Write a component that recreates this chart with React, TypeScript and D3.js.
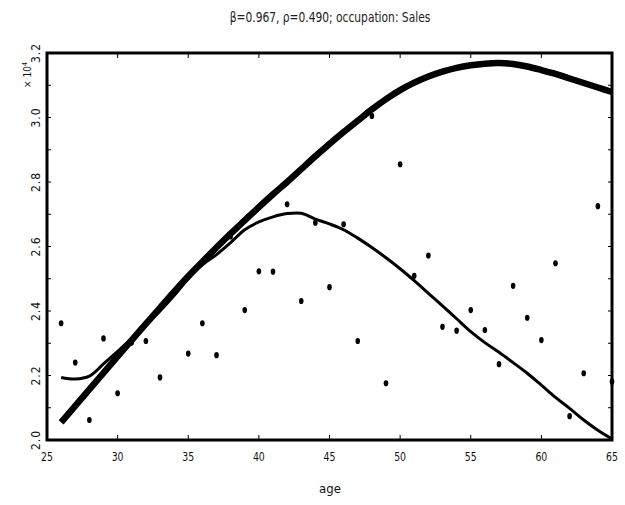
import React from "react";
import * as d3 from "d3";

// Observed income by age (units of 10^4)
const ages = [26, 27, 28, 29, 30, 31, 32, 33, 35, 36, 37, 38, 39, 40, 41, 42, 43, 44, 45, 46, 47, 48, 49, 50, 51, 52, 53, 54, 55, 56, 57, 58, 59, 60, 61, 62, 63, 64, 65];
const incomes = [2.362, 2.24, 2.062, 2.315, 2.145, 2.302, 2.307, 2.194, 2.268, 2.362, 2.263, 2.631, 2.403, 2.523, 2.522, 2.731, 2.431, 2.674, 2.474, 2.669, 2.307, 3.005, 2.176, 2.855, 2.509, 2.572, 2.351, 2.339, 2.403, 2.341, 2.235, 2.478, 2.379, 2.31, 2.548, 2.074, 2.207, 2.725, 2.181];

// Fitted curves evaluated at each age
const curveAges = [26, 27, 28, 29, 30, 31, 32, 33, 34, 35, 36, 37, 38, 39, 40, 41, 42, 43, 44, 45, 46, 47, 48, 49, 50, 51, 52, 53, 54, 55, 56, 57, 58, 59, 60, 61, 62, 63, 64, 65];
const modelFit = [2.055, 2.106, 2.157, 2.208, 2.259, 2.31, 2.36, 2.41, 2.46, 2.508, 2.553, 2.597, 2.64, 2.681, 2.722, 2.762, 2.8, 2.84, 2.88, 2.918, 2.955, 2.99, 3.025, 3.057, 3.085, 3.108, 3.127, 3.142, 3.154, 3.162, 3.167, 3.169, 3.166, 3.158, 3.147, 3.135, 3.121, 3.107, 3.093, 3.079];
const smoothFit = [2.194, 2.189, 2.198, 2.236, 2.275, 2.315, 2.358, 2.4, 2.448, 2.5, 2.543, 2.575, 2.612, 2.652, 2.676, 2.692, 2.702, 2.703, 2.685, 2.67, 2.652, 2.626, 2.597, 2.565, 2.531, 2.494, 2.455, 2.416, 2.376, 2.336, 2.302, 2.272, 2.24, 2.207, 2.17, 2.132, 2.098, 2.062, 2.03, 2.003];

const xTicks = [25, 30, 35, 40, 45, 50, 55, 60, 65];
const yLabelTicks = [2.0, 2.2, 2.4, 2.6, 2.8, 3.0, 3.2];
const yMinorTicks = [2.1, 2.2, 2.3, 2.4, 2.5, 2.6, 2.7, 2.8, 2.9, 3.0, 3.1];

const FONT = "'DejaVu Sans Condensed', 'Liberation Sans Narrow', 'DejaVu Sans', sans-serif";

export default function App() {
  const W = 625;
  const H = 505;
  const left = 47, right = 612, top = 53, bottom = 440;
  const x = d3.scaleLinear().domain([25, 65]).range([left, right]);
  const y = d3.scaleLinear().domain([2.0, 3.2]).range([bottom, top]);

  const line = d3
    .line<[number, number]>()
    .x((d) => x(d[0]))
    .y((d) => y(d[1]))
    .curve(d3.curveCatmullRom.alpha(0.5));

  const modelPath = line(curveAges.map((a, i) => [a, modelFit[i]]) as [number, number][]) || "";
  const smoothPath = line(curveAges.map((a, i) => [a, smoothFit[i]]) as [number, number][]) || "";

  const tickLen = 5;
  const sideTick = 4;

  return (
    <svg width={W} height={H} style={{ position: "absolute", left: 0, top: 0, background: "#fff" }}>
      <text transform="translate(330,22) scale(0.88,1)" textAnchor="middle" fontFamily={FONT} fontSize={13.5} fill="#222">
        β=0.967, ρ=0.490; occupation: Sales
      </text>

      {/* axis ticks on all four sides, pointing inward */}
      {xTicks.map((t) => (
        <g key={"xt" + t}>
          <line x1={x(t)} x2={x(t)} y1={bottom} y2={bottom - tickLen} stroke="#000" strokeWidth={1} />
          <line x1={x(t)} x2={x(t)} y1={top} y2={top + tickLen} stroke="#000" strokeWidth={1} />
          <text transform={`translate(${x(t)},461) scale(0.8,1)`} textAnchor="middle" fontFamily={FONT} fontSize={13} fill="#111">
            {t}
          </text>
        </g>
      ))}
      {yMinorTicks.map((t) => (
        <g key={"ym" + t}>
          <line x1={left} x2={left + sideTick} y1={y(t)} y2={y(t)} stroke="#000" strokeWidth={1} />
          <line x1={right} x2={right - sideTick} y1={y(t)} y2={y(t)} stroke="#000" strokeWidth={1} />
        </g>
      ))}
      {yLabelTicks.map((t) => (
        <text
          key={"yl" + t}
          transform={`translate(36,${y(t)}) rotate(-90)`}
          textAnchor="middle"
          dy="0.35em"
          fontFamily={FONT}
          fontSize={12}
          letterSpacing={1}
          fill="#111"
        >
          {t.toFixed(1)}
        </text>
      ))}
      <text transform={`translate(27,75) rotate(-90)`} textAnchor="middle" dy="0.35em" fontFamily={FONT} fontSize={10} fill="#111">
        × 10<tspan dy="-4" fontSize={7}>4</tspan>
      </text>

      <text x={330} y={493} textAnchor="middle" fontFamily={FONT} fontSize={13} fill="#111">
        age
      </text>

      {/* observations */}
      {ages.map((a, i) => (
        <ellipse key={"p" + a} cx={x(a)} cy={y(incomes[i])} rx={2.3} ry={3.1} fill="#000" />
      ))}

      {/* fitted curves */}
      <path d={smoothPath} fill="none" stroke="#000" strokeWidth={3} strokeLinejoin="round" />
      <path d={modelPath} fill="none" stroke="#000" strokeWidth={6.5} strokeLinejoin="round" />

      {/* frame */}
      <rect x={left} y={top} width={right - left} height={bottom - top} fill="none" stroke="#000" strokeWidth={3} />
    </svg>
  );
}
